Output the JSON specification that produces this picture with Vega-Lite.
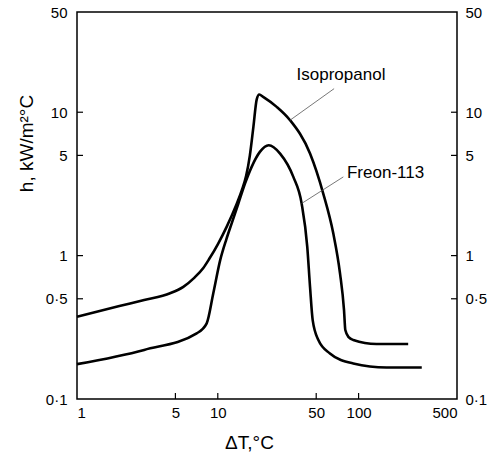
{
  "$schema": "https://vega.github.io/schema/vega-lite/v6.json",
  "autosize": {"type": "none"},
  "padding": {"left": 77, "top": 12, "right": 38, "bottom": 57},
  "width": 380,
  "height": 387,
  "background": "white",
  "config": {
    "view": {"stroke": "black", "strokeWidth": 1.5},
    "font": "Liberation Sans",
    "axis": {
      "grid": false,
      "domain": false,
      "ticks": false,
      "tickSize": 0,
      "labelColor": "black",
      "labelFontSize": 15,
      "labelFont": "Liberation Sans",
      "titleColor": "black",
      "titleFont": "Liberation Sans",
      "titleFontSize": 19,
      "titleFontWeight": "normal"
    }
  },
  "datasets": {
    "curves": [
      {"fluid": "Isopropanol", "dT": 1, "h": 0.375},
      {"fluid": "Isopropanol", "dT": 2, "h": 0.445},
      {"fluid": "Isopropanol", "dT": 3, "h": 0.49},
      {"fluid": "Isopropanol", "dT": 4.58, "h": 0.546},
      {"fluid": "Isopropanol", "dT": 5.69, "h": 0.606},
      {"fluid": "Isopropanol", "dT": 6.8, "h": 0.7},
      {"fluid": "Isopropanol", "dT": 7.89, "h": 0.82},
      {"fluid": "Isopropanol", "dT": 8.7, "h": 0.95},
      {"fluid": "Isopropanol", "dT": 10.0, "h": 1.2},
      {"fluid": "Isopropanol", "dT": 11.6, "h": 1.6},
      {"fluid": "Isopropanol", "dT": 13.5, "h": 2.25},
      {"fluid": "Isopropanol", "dT": 14.8, "h": 2.85},
      {"fluid": "Isopropanol", "dT": 15.9, "h": 3.6},
      {"fluid": "Isopropanol", "dT": 16.9, "h": 5.0},
      {"fluid": "Isopropanol", "dT": 17.9, "h": 7.9},
      {"fluid": "Isopropanol", "dT": 18.9, "h": 12.3},
      {"fluid": "Isopropanol", "dT": 19.7, "h": 13.3},
      {"fluid": "Isopropanol", "dT": 21.0, "h": 12.8},
      {"fluid": "Isopropanol", "dT": 26.2, "h": 10.9},
      {"fluid": "Isopropanol", "dT": 32.6, "h": 8.8},
      {"fluid": "Isopropanol", "dT": 45.2, "h": 5.15},
      {"fluid": "Isopropanol", "dT": 56.1, "h": 2.71},
      {"fluid": "Isopropanol", "dT": 66.1, "h": 1.43},
      {"fluid": "Isopropanol", "dT": 73.8, "h": 0.752},
      {"fluid": "Isopropanol", "dT": 78.8, "h": 0.417},
      {"fluid": "Isopropanol", "dT": 80.5, "h": 0.303},
      {"fluid": "Isopropanol", "dT": 85, "h": 0.27},
      {"fluid": "Isopropanol", "dT": 91.7, "h": 0.258},
      {"fluid": "Isopropanol", "dT": 134, "h": 0.242},
      {"fluid": "Isopropanol", "dT": 225, "h": 0.242},
      {"fluid": "Freon-113", "dT": 1, "h": 0.175},
      {"fluid": "Freon-113", "dT": 3, "h": 0.22},
      {"fluid": "Freon-113", "dT": 7.08, "h": 0.287},
      {"fluid": "Freon-113", "dT": 8.34, "h": 0.337},
      {"fluid": "Freon-113", "dT": 9.29, "h": 0.546},
      {"fluid": "Freon-113", "dT": 10.4, "h": 0.93},
      {"fluid": "Freon-113", "dT": 11.5, "h": 1.3},
      {"fluid": "Freon-113", "dT": 12.55, "h": 1.68},
      {"fluid": "Freon-113", "dT": 14.0, "h": 2.31},
      {"fluid": "Freon-113", "dT": 15.6, "h": 3.18},
      {"fluid": "Freon-113", "dT": 17.4, "h": 4.16},
      {"fluid": "Freon-113", "dT": 19.9, "h": 5.29},
      {"fluid": "Freon-113", "dT": 23.0, "h": 5.89},
      {"fluid": "Freon-113", "dT": 27.7, "h": 5.15},
      {"fluid": "Freon-113", "dT": 34.4, "h": 3.54},
      {"fluid": "Freon-113", "dT": 39.4, "h": 2.31},
      {"fluid": "Freon-113", "dT": 43.2, "h": 1.15},
      {"fluid": "Freon-113", "dT": 45.2, "h": 0.606},
      {"fluid": "Freon-113", "dT": 47.2, "h": 0.355},
      {"fluid": "Freon-113", "dT": 51.8, "h": 0.258},
      {"fluid": "Freon-113", "dT": 62.6, "h": 0.208},
      {"fluid": "Freon-113", "dT": 91.7, "h": 0.177},
      {"fluid": "Freon-113", "dT": 158, "h": 0.166},
      {"fluid": "Freon-113", "dT": 281, "h": 0.166}
    ],
    "xticks": [{"v": 5}, {"v": 10}, {"v": 50}, {"v": 100}],
    "yticks": [{"v": 0.5}, {"v": 1}, {"v": 5}, {"v": 10}],
    "labels": [
      {"text": "Isopropanol", "dT": 75, "h": 18.1, "side": "center"},
      {"text": "Freon-113", "dT": 82.7, "h": 3.76, "side": "left"}
    ],
    "leaders": [
      {"dT": 67, "h": 14.6, "dT2": 32.6, "h2": 8.8},
      {"dT": 77.9, "h": 3.54, "dT2": 39.4, "h2": 2.31}
    ]
  },
  "layer": [
    {
      "data": {"name": "curves"},
      "mark": {"type": "line", "interpolate": "monotone", "color": "black", "strokeWidth": 2.6},
      "encoding": {
        "x": {
          "field": "dT", "type": "quantitative",
          "scale": {"type": "log", "domain": [1, 500], "nice": false},
          "axis": {
            "values": [1, 5, 10, 50, 100, 500],
            "labelExpr": "format(datum.value, 'd')",
            "labelPadding": 6,
            "title": "ΔT,°C",
            "titleAnchor": "start",
            "titleAlign": "center",
            "titleX": 172,
            "titleY": 43,
            "titleBaseline": "middle"
          }
        },
        "y": {
          "field": "h", "type": "quantitative",
          "scale": {"type": "log", "domain": [0.1, 50], "nice": false},
          "axis": {
            "orient": "left",
            "values": [0.1, 0.5, 1, 5, 10, 50],
            "labelExpr": "datum.value == 0.1 ? '0·1' : datum.value == 0.5 ? '0·5' : format(datum.value, 'd')",
            "labelPadding": 10,
            "title": "h, kW/m²°C",
            "titleAnchor": "start",
            "titleAlign": "center",
            "titleX": -51,
            "titleY": 131,
            "titleBaseline": "middle"
          }
        },
        "detail": {"field": "fluid", "type": "nominal"}
      }
    },
    {
      "data": {"name": "curves"},
      "mark": {"type": "line", "interpolate": "monotone", "opacity": 0},
      "encoding": {
        "x": {"field": "dT", "type": "quantitative"},
        "y": {
          "field": "h", "type": "quantitative",
          "axis": {
            "orient": "right",
            "values": [0.1, 0.5, 1, 5, 10, 50],
            "labelExpr": "datum.value == 0.1 ? '0·1' : datum.value == 0.5 ? '0·5' : format(datum.value, 'd')",
            "labelPadding": 8,
            "title": null
          }
        },
        "detail": {"field": "fluid", "type": "nominal"}
      }
    },
    {
      "data": {"name": "xticks"},
      "mark": {"type": "tick", "orient": "vertical", "size": 12, "thickness": 1.2, "color": "black", "opacity": 1, "clip": true},
      "encoding": {
        "x": {"field": "v", "type": "quantitative"},
        "y": {"datum": 0.1, "type": "quantitative", "axis": null}
      }
    },
    {
      "data": {"name": "yticks"},
      "mark": {"type": "tick", "orient": "horizontal", "size": 12, "thickness": 1.2, "color": "black", "opacity": 1, "clip": true},
      "encoding": {
        "x": {"datum": 1, "type": "quantitative"},
        "y": {"field": "v", "type": "quantitative", "axis": null}
      }
    },
    {
      "data": {"name": "yticks"},
      "mark": {"type": "tick", "orient": "horizontal", "size": 12, "thickness": 1.2, "color": "black", "opacity": 1, "clip": true},
      "encoding": {
        "x": {"datum": 500, "type": "quantitative"},
        "y": {"field": "v", "type": "quantitative", "axis": null}
      }
    },
    {
      "data": {"name": "leaders"},
      "mark": {"type": "rule", "color": "#555555", "strokeWidth": 0.8},
      "encoding": {
        "x": {"field": "dT", "type": "quantitative"},
        "x2": {"field": "dT2"},
        "y": {"field": "h", "type": "quantitative", "axis": null},
        "y2": {"field": "h2"}
      }
    },
    {
      "data": {"name": "labels"},
      "transform": [{"filter": "datum.side == 'center'"}],
      "mark": {"type": "text", "fontSize": 17, "font": "Liberation Sans", "color": "black", "baseline": "middle", "align": "center"},
      "encoding": {
        "x": {"field": "dT", "type": "quantitative"},
        "y": {"field": "h", "type": "quantitative", "axis": null},
        "text": {"field": "text"}
      }
    },
    {
      "data": {"name": "labels"},
      "transform": [{"filter": "datum.side == 'left'"}],
      "mark": {"type": "text", "fontSize": 17, "font": "Liberation Sans", "color": "black", "baseline": "middle", "align": "left"},
      "encoding": {
        "x": {"field": "dT", "type": "quantitative"},
        "y": {"field": "h", "type": "quantitative", "axis": null},
        "text": {"field": "text"}
      }
    }
  ],
  "resolve": {"axis": {"y": "independent"}}
}
